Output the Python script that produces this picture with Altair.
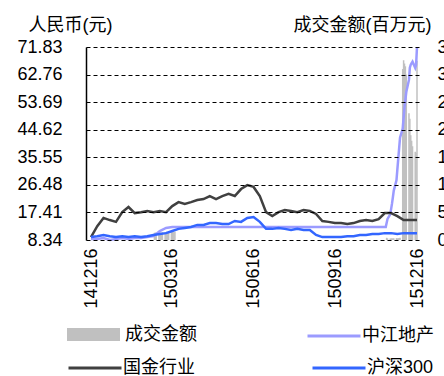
import altair as alt
import pandas as pd

FONT = "Liberation Sans, Noto Sans CJK SC"

# ---- data ----
week_dates = pd.date_range("2014-12-16", periods=53, freq="7D").strftime("%Y-%m-%d").tolist() + ["2015-12-16"]

guojin = [9.3, 12.9, 15.6, 14.9, 14.3, 17.5, 19.2, 17.2, 17.5, 17.9,
          17.5, 17.9, 17.5, 19.5, 20.8, 20.2, 20.8, 21.5, 21.8, 22.8,
          21.8, 22.8, 23.5, 22.8, 25.1, 26.4, 25.8, 22.8, 17.5, 16.2,
          17.5, 18.2, 17.9, 17.5, 18.2, 17.9, 16.9, 14.6, 14.3, 13.9,
          13.9, 13.6, 13.9, 14.6, 14.9, 14.6, 15.2, 17.2, 17.2, 16.2,
          14.9, 14.9, 14.9, 14.9]

hs300 = [9.3, 9.6, 10.0, 9.6, 9.3, 9.6, 9.3, 9.6, 9.3, 9.6,
         10.0, 10.3, 10.6, 11.3, 12.0, 12.3, 12.6, 13.3, 13.3, 13.9,
         13.9, 13.6, 13.6, 14.6, 14.3, 15.6, 15.9, 14.3, 12.0, 12.0,
         12.3, 12.0, 11.6, 12.0, 11.6, 11.6, 10.0, 9.3, 9.3, 9.3,
         9.3, 9.6, 9.6, 10.0, 10.0, 10.3, 10.3, 10.6, 10.6, 10.3,
         10.6, 10.6, 10.6, 10.6]

late_dates = ["2015-11-12", "2015-11-13", "2015-11-16", "2015-11-17", "2015-11-18",
              "2015-11-19", "2015-11-20", "2015-11-23", "2015-11-24", "2015-11-25",
              "2015-11-26", "2015-11-27", "2015-11-30", "2015-12-01", "2015-12-02",
              "2015-12-03", "2015-12-04", "2015-12-07", "2015-12-08", "2015-12-09",
              "2015-12-10", "2015-12-11", "2015-12-14", "2015-12-15", "2015-12-16"]

zj_dates = week_dates[:14] + ["2015-11-11"] + late_dates
zj_values = [8.7, 8.7, 9.0, 8.34, 8.7, 9.0, 8.7, 9.0, 9.0, 9.3, 9.6, 11.3, 12.3, 12.6,
             12.6,
             13.9, 15.3, 16.8, 18.5, 20.3, 22.4, 24.6, 28.0, 31.5, 35.0,
             38.5, 42.0, 45.0, 48.5, 52.0, 54.5, 57.0, 61.0, 65.0, 66.0,
             66.5, 67.0, 65.0, 66.0, 71.83]

early_vol_dates = ["2015-02-25", "2015-02-26", "2015-02-27", "2015-03-02", "2015-03-03",
                   "2015-03-04", "2015-03-05", "2015-03-06", "2015-03-09", "2015-03-10",
                   "2015-03-11", "2015-03-12", "2015-03-13", "2015-03-16", "2015-03-17",
                   "2015-03-18", "2015-03-19", "2015-03-20"]
early_vol = [130, 135, 130, 140, 130, 135, 130, 140, 145, 140,
             150, 145, 140, 145, 150, 145, 140, 150]
late_vol = [40, 30, 25, 25, 30, 25, 30, 35, 30, 30,
            35, 40, 3100, 3260, 3200, 3150, 3000, 2300, 2200, 1900,
            1800, 1700, 1600, 1580, 3250]

left_ticks = [8.34, 17.41, 26.48, 35.55, 44.62, 53.69, 62.76, 71.83]
right_ticks = [0, 500, 1000, 1500, 2000, 2500, 3000, 3500]
x_tick_dates = [(2014, 12, 16), (2015, 3, 16), (2015, 6, 16), (2015, 9, 16), (2015, 12, 16)]

series_names = ["成交金额", "中江地产", "国金行业", "沪深300"]
series_colors = ["#c0c0c0", "#9b9bff", "#404040", "#3366ff"]

# ---- frames ----
vol_df = pd.DataFrame({"date": early_vol_dates + late_dates, "vol": early_vol + late_vol,
                       "vname": series_names[0]})
zj_df = pd.DataFrame({"date": zj_dates, "price": zj_values, "zname": series_names[1]})
ln_df = pd.concat([
    pd.DataFrame({"date": week_dates, "price": guojin, "lname": series_names[2]}),
    pd.DataFrame({"date": week_dates, "price": hs300, "lname": series_names[3]}),
])

def dt(t):
    return alt.DateTime(year=t[0], month=t[1], date=t[2], utc=True)

x_enc = alt.X(
    "date:T",
    scale=alt.Scale(type="utc", domain=[dt(x_tick_dates[0]), dt(x_tick_dates[-1])]),
    axis=alt.Axis(values=[dt(t) for t in x_tick_dates], format="%y%m%d", labelAngle=270,
                  domain=False, ticks=False, grid=False, labelFontSize=18, labelPadding=8,
                  labelFlush=False, labelOverlap=False, labelColor="black", title=None),
)

bars = alt.Chart(vol_df).mark_bar(size=1.5).encode(
    x=x_enc,
    y=alt.Y("vol:Q", scale=alt.Scale(domain=[0, 3500], nice=False),
            axis=alt.Axis(orient="right", values=right_ticks, grid=False, domain=False, ticks=False,
                          labelPadding=15, labelFontSize=18, labelColor="black",
                          title="成交金额(百万元)", titleAngle=0, titleX=-129, titleY=-22,
                          titleAlign="left", titleBaseline="middle", titleFontSize=18,
                          titleFontWeight="normal", titleColor="black")),
    fill=alt.Fill("vname:N", scale=alt.Scale(domain=[series_names[0]], range=[series_colors[0]]),
                  legend=alt.Legend(orient="none", legendX=-19, legendY=261, title=None,
                                    symbolType="M-1,-0.245H1V0.245H-1Z", symbolSize=2809,
                                    symbolStrokeWidth=0, labelFontSize=18, labelOffset=5,
                                    padding=0)),
)

zj_line = alt.Chart(zj_df).mark_line(strokeWidth=2.5).encode(
    x=x_enc,
    y=alt.Y("price:Q", scale=alt.Scale(domain=[8.34, 71.83], nice=False, zero=False), axis=None),
    color=alt.Color("zname:N", scale=alt.Scale(domain=[series_names[1]], range=[series_colors[1]]),
                    legend=alt.Legend(orient="none", legendX=220, legendY=261, title=None,
                                      symbolType="stroke", symbolSize=2809, symbolStrokeWidth=3,
                                      labelFontSize=18, labelOffset=0, padding=0)),
)

lines = alt.Chart(ln_df).mark_line(strokeWidth=2.5).encode(
    x=x_enc,
    y=alt.Y("price:Q", scale=alt.Scale(domain=[8.34, 71.83], nice=False, zero=False),
            axis=alt.Axis(orient="left", values=left_ticks, format=".2f", grid=True,
                          gridDash=[4, 3], gridColor="black", gridOpacity=1, gridWidth=1,
                          domain=True, domainColor="black", domainWidth=1.5, ticks=False,
                          labelPadding=24, labelFontSize=18, labelColor="black",
                          title="人民币(元)", titleAngle=0, titleX=-58, titleY=-22,
                          titleAlign="left", titleBaseline="middle", titleFontSize=18,
                          titleFontWeight="normal", titleColor="black", zindex=1)),
    stroke=alt.Stroke("lname:N", scale=alt.Scale(domain=series_names[2:], range=series_colors[2:]),
                      legend=alt.Legend(orient="none", legendX=-19, legendY=293, title=None,
                                        direction="horizontal", columnPadding=111,
                                        symbolType="stroke", symbolSize=2809, symbolStrokeWidth=3,
                                        labelFontSize=18, labelOffset=0, padding=0)),
)

chart = alt.layer(bars, zj_line, lines).resolve_scale(y="independent").properties(
    width=336, height=193,
    autosize=alt.AutoSizeParams(type="none"),
    padding={"left": 86, "top": 47, "right": 22, "bottom": 136},
).configure(font=FONT).configure_view(stroke=None).configure_legend(labelColor="black")

chart.save("out.html", embed_options={"renderer": "svg", "actions": False})
